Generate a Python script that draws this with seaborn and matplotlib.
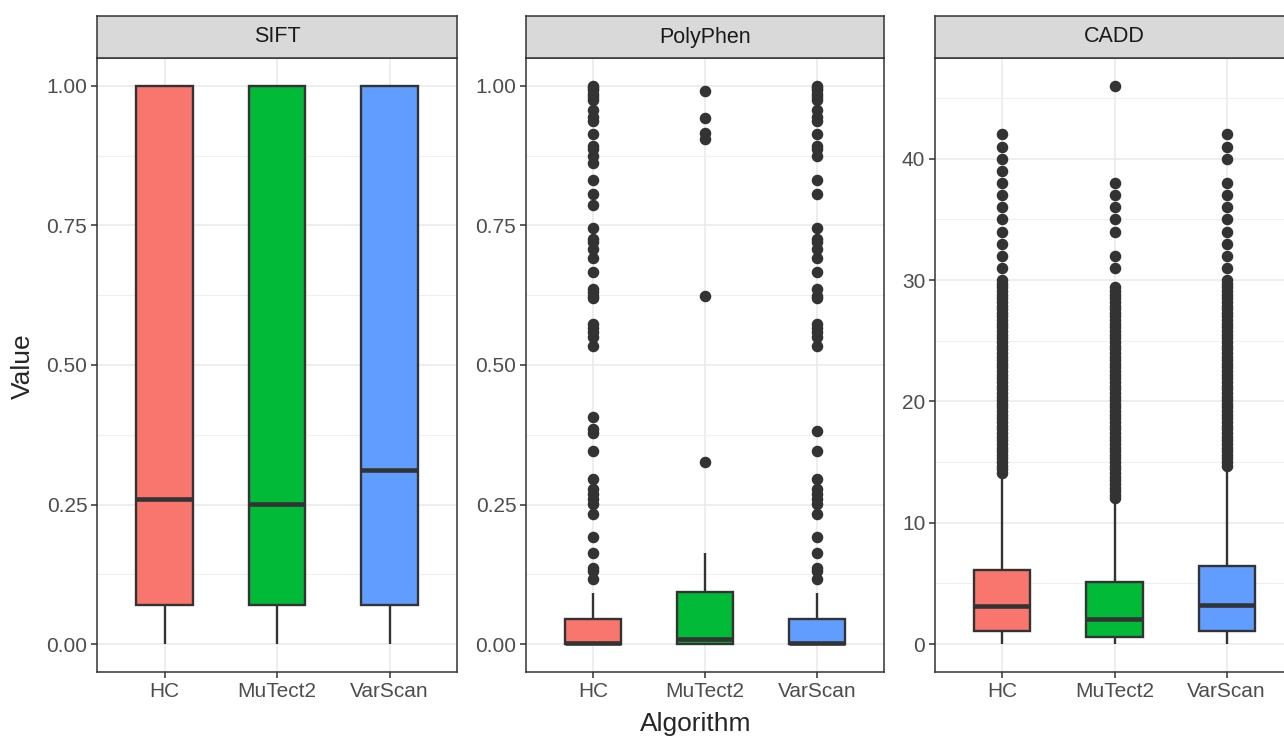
import numpy as np
import pandas as pd
import seaborn as sns
import matplotlib.pyplot as plt

# configs visuais
sns.set_theme(style="white")
plt.rcParams['font.family'] = ['Liberation Sans', 'DejaVu Sans']

# dados
ALGORITMOS = ["HC", "MuTect2", "VarScan"]
PAINEIS = ["SIFT", "PolyPhen", "CADD"]
CORES = {"HC": "#F8766D", "MuTect2": "#00BA38", "VarScan": "#619CFF"}

# resumo de cada caixa: bigode inferior, Q1, mediana, Q3, bigode superior
SIFT_RESUMO = {
    "HC": [0.0, 0.07, 0.260, 1.0, 1.0],
    "MuTect2": [0.0, 0.07, 0.251, 1.0, 1.0],
    "VarScan": [0.0, 0.07, 0.311, 1.0, 1.0],
}
POLYPHEN_RESUMO = {
    "HC": [0.0, 0.0, 0.002, 0.045, 0.092],
    "MuTect2": [0.0, 0.0, 0.009, 0.094, 0.163],
    "VarScan": [0.0, 0.0, 0.002, 0.045, 0.092],
}
CADD_RESUMO = {
    "HC": [0.0, 1.09, 3.14, 6.12, 13.6],
    "MuTect2": [0.0, 0.58, 2.05, 5.12, 11.9],
    "VarScan": [0.0, 1.09, 3.22, 6.47, 14.5],
}

# outliers (pontos)
SIFT_OUTLIERS = {"HC": [], "MuTect2": [], "VarScan": []}
POLYPHEN_OUTLIERS = {
    "HC": [1.000, 0.997, 0.992, 0.986, 0.980, 0.974, 0.956, 0.944, 0.938, 0.914,
           0.893, 0.887, 0.875, 0.862, 0.832, 0.806, 0.786, 0.745, 0.726, 0.721,
           0.708, 0.691, 0.667, 0.636, 0.630, 0.623, 0.620, 0.573, 0.566, 0.559,
           0.551, 0.534, 0.406, 0.385, 0.379, 0.346, 0.296, 0.278, 0.269, 0.260,
           0.251, 0.233, 0.191, 0.164, 0.137, 0.131, 0.116],
    "MuTect2": [0.990, 0.943, 0.916, 0.905, 0.624, 0.327],
    "VarScan": [1.000, 0.997, 0.992, 0.986, 0.980, 0.974, 0.956, 0.944, 0.938, 0.914,
                0.893, 0.887, 0.875, 0.832, 0.806, 0.745, 0.726, 0.721, 0.708, 0.691,
                0.667, 0.636, 0.623, 0.620, 0.573, 0.566, 0.559, 0.551, 0.534, 0.382,
                0.346, 0.296, 0.278, 0.269, 0.260, 0.251, 0.233, 0.191, 0.164, 0.137,
                0.131, 0.116],
}
# coluna densa de pontos do CADD
CADD_DENSOS = [12.0, 12.3, 12.6, 12.9, 13.2, 13.5, 13.8, 14.1, 14.4, 14.7, 15.0,
               15.3, 15.6, 15.9, 16.2, 16.5, 16.8, 17.1, 17.4, 17.7, 18.0, 18.3,
               18.6, 18.9, 19.2, 19.5, 19.8, 20.1, 20.4, 20.7, 21.0, 21.3, 21.6,
               21.9, 22.2, 22.5, 22.8, 23.1, 23.4, 23.7, 24.0, 24.3, 24.6, 24.9,
               25.2, 25.5, 25.8, 26.1, 26.4, 26.7, 27.0, 27.3, 27.6, 27.9, 28.2,
               28.5, 28.8, 29.1, 29.4, 29.7, 30.0]
CADD_FAIXA_DENSA = {"HC": (14.0, 30.0), "MuTect2": (12.0, 29.4), "VarScan": (14.7, 30.0)}
CADD_ESPARSOS = {
    "HC": [31, 32, 33, 34, 35, 36, 37, 38, 39, 40, 41, 42],
    "MuTect2": [31, 32, 34, 35, 36, 37, 38, 46],
    "VarScan": [31, 32, 33, 34, 35, 36, 37, 38, 40, 41, 42],
}
CADD_OUTLIERS = {
    a: [v for v in CADD_DENSOS if CADD_FAIXA_DENSA[a][0] <= v <= CADD_FAIXA_DENSA[a][1]]
    + CADD_ESPARSOS[a]
    for a in ALGORITMOS
}

RESUMOS = {"SIFT": SIFT_RESUMO, "PolyPhen": POLYPHEN_RESUMO, "CADD": CADD_RESUMO}
OUTLIERS = {"SIFT": SIFT_OUTLIERS, "PolyPhen": POLYPHEN_OUTLIERS, "CADD": CADD_OUTLIERS}


# monta amostra cujos quartis batem com o resumo lido
def montar_valores(resumo, outliers, k=300):
    lo, q1, med, q3, hi = resumo
    return [lo] + [q1] * k + [med] * k + [q3] * k + [hi] + list(outliers)


linhas = []
for painel in PAINEIS:
    for algo in ALGORITMOS:
        for v in montar_valores(RESUMOS[painel][algo], OUTLIERS[painel][algo]):
            linhas.append((painel, algo, v))
df = pd.DataFrame(linhas, columns=["Score", "Algorithm", "Value"])

# layout em pixels (figura 1284x738)
W, H = 1284, 738
pos_x = {"SIFT": (97, 457), "PolyPhen": (526, 884), "CADD": (935, 1294)}
topo_strip, topo_painel, base_painel = 16, 58, 672
limites = {"SIFT": (-0.05, 1.05), "PolyPhen": (-0.05, 1.05), "CADD": (-2.3, 48.3)}
ticks = {
    "SIFT": ([0, 0.25, 0.5, 0.75, 1.0], [0.125, 0.375, 0.625, 0.875]),
    "PolyPhen": ([0, 0.25, 0.5, 0.75, 1.0], [0.125, 0.375, 0.625, 0.875]),
    "CADD": ([0, 10, 20, 30, 40], [5, 15, 25, 35, 45]),
}

fig = plt.figure(figsize=(W / 100, H / 100), dpi=100)

for painel in PAINEIS:
    x0, x1 = pos_x[painel]
    ax = fig.add_axes([x0 / W, 1 - base_painel / H, (x1 - x0) / W, (base_painel - topo_painel) / H])
    sub = df[df["Score"] == painel]
    sns.boxplot(
        data=sub, x="Algorithm", y="Value", hue="Algorithm",
        order=ALGORITMOS, hue_order=ALGORITMOS, palette=CORES, saturation=1,
        width=0.5, linecolor="#333333", linewidth=1.7, fliersize=7.3, showcaps=False,
        flierprops=dict(marker="o", markerfacecolor="#333333", markeredgecolor="#333333"),
        medianprops=dict(linewidth=3.3), legend=False, ax=ax,
    )
    ax.set_xlim(-0.6, 2.6)
    ax.set_ylim(*limites[painel])
    maj, mnr = ticks[painel]
    ax.set_yticks(maj)
    ax.set_yticks(mnr, minor=True)
    if painel == "CADD":
        ax.set_yticklabels([f"{t:d}" for t in maj])
    else:
        ax.set_yticklabels([f"{t:.2f}" for t in maj])
    ax.set_axisbelow(True)
    ax.grid(which="major", color="#EBEBEB", linewidth=1.2)
    ax.grid(which="minor", axis="y", color="#EFEFEF", linewidth=0.8)
    ax.set_xlabel("")
    ax.set_ylabel("")
    for s in ax.spines.values():
        s.set_visible(True)
        s.set_color("#333333")
        s.set_linewidth(1.1)
    ax.tick_params(which="major", direction="out", length=4.5, width=1.1, color="#333333",
                   labelcolor="#4D4D4D", labelsize=15, pad=2.5, left=True, bottom=True)
    ax.tick_params(which="minor", length=0)

    # faixa do titulo do painel
    sax = fig.add_axes([x0 / W, 1 - topo_painel / H, (x1 - x0) / W, (topo_painel - topo_strip) / H])
    sax.set_facecolor("#D9D9D9")
    sax.set_xticks([])
    sax.set_yticks([])
    for s in sax.spines.values():
        s.set_visible(True)
        s.set_color("#333333")
        s.set_linewidth(1.1)
    sax.text(0.5, 0.5, painel, ha="center", va="center", fontsize=15.5,
             color="#1A1A1A", transform=sax.transAxes)

fig.text(22.5 / W, 1 - 366 / H, "Value", rotation=90, ha="center", va="center", fontsize=19)
fig.text(696 / W, 1 - 724 / H, "Algorithm", ha="center", va="center", fontsize=19)

plt.savefig("out.png", dpi=100)
